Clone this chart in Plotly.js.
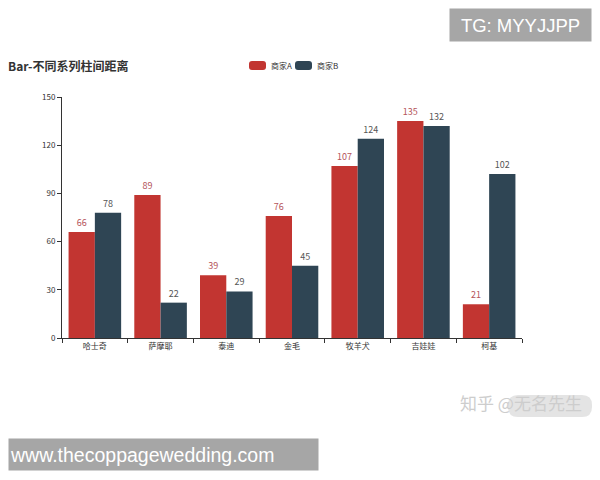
<!DOCTYPE html>
<html>
<head>
<meta charset="utf-8">
<script src="https://cdn.plot.ly/plotly-3.0.1.min.js"></script>
<style>html,body{margin:0;padding:0;background:#fff;}#chart{width:600px;height:480px;}</style>
</head>
<body>
<div id="chart"></div>
<script>
const categories = ["哈士奇", "萨摩耶", "泰迪", "金毛", "牧羊犬", "吉娃娃", "柯基"];
const seriesA = [66, 89, 39, 76, 107, 135, 21];
const seriesB = [78, 22, 29, 45, 124, 132, 102];
const seriesNames = ["商家A", "商家B"];
const seriesColors = ["#c23531", "#2f4554"];
const yTicks = [0, 30, 60, 90, 120, 150];

const FONT = '"Noto Sans CJK SC", "Liberation Sans", sans-serif';
const L = 62, R = 78, T = 97, B = 142;
const W = 600 - L - R, H = 480 - T - B;
const px = x => (x - L) / W;
const py = y => (480 - B - y) / H;

const traces = [
  {type: 'bar', name: seriesNames[0], x: categories, y: seriesA,
   marker: {color: seriesColors[0]}, text: seriesA.map(String), textposition: 'outside',
   textfont: {size: 9, color: '#b4545a', family: FONT}, cliponaxis: false, hoverinfo: 'none'},
  {type: 'bar', name: seriesNames[1], x: categories, y: seriesB,
   marker: {color: seriesColors[1]}, text: seriesB.map(String), textposition: 'outside',
   textfont: {size: 9, color: '#555', family: FONT}, cliponaxis: false, hoverinfo: 'none'}
];

// custom legend (rounded icons like the original)
function roundRect(x0, y0, x1, y1, r) {
  return `M ${px(x0 + r)} ${py(y0)} L ${px(x1 - r)} ${py(y0)} Q ${px(x1)} ${py(y0)} ${px(x1)} ${py(y0 + r)} ` +
         `L ${px(x1)} ${py(y1 - r)} Q ${px(x1)} ${py(y1)} ${px(x1 - r)} ${py(y1)} ` +
         `L ${px(x0 + r)} ${py(y1)} Q ${px(x0)} ${py(y1)} ${px(x0)} ${py(y1 - r)} ` +
         `L ${px(x0)} ${py(y0 + r)} Q ${px(x0)} ${py(y0)} ${px(x0 + r)} ${py(y0)} Z`;
}
const legendShapes = [], legendAnn = [];
seriesNames.forEach((n, i) => {
  const x0 = 249 + i * 46;
  legendShapes.push({type: 'path', xref: 'paper', yref: 'paper', path: roundRect(x0, 61, x0 + 17, 70, 3),
                     fillcolor: seriesColors[i], line: {width: 0}});
  legendAnn.push({text: n, xref: 'paper', yref: 'paper', x: px(x0 + 20), y: py(65.5),
                  xanchor: 'left', yanchor: 'middle', showarrow: false,
                  font: {size: 8, color: '#333', family: FONT}});
});

const layout = {
  width: 600, height: 480,
  margin: {l: L, r: R, t: T, b: B, pad: 0},
  paper_bgcolor: '#fff', plot_bgcolor: '#fff',
  font: {family: FONT, color: '#333'},
  barmode: 'group', bargap: 0.2, bargroupgap: 0,
  title: {text: '<b>Bar-不同系列柱间距离</b>', x: 8/600, xanchor: 'left', xref: 'container',
          y: 1 - 67/480, yanchor: 'middle', yref: 'container',
          font: {size: 12, color: '#333', family: FONT}},
  showlegend: false,
  xaxis: {type: 'category', showline: true, linecolor: '#333', linewidth: 1,
          ticks: 'outside', ticklen: 4, tickcolor: '#333', tickson: 'boundaries',
          showgrid: false, zeroline: false, tickfont: {size: 8, color: '#333', family: FONT},
          fixedrange: true},
  yaxis: {range: [0, 150], tickvals: yTicks, ticktext: yTicks.map(String),
          showline: true, linecolor: '#333', linewidth: 1,
          ticks: 'outside', ticklen: 4, tickcolor: '#333',
          showgrid: false, zeroline: false, tickfont: {size: 8, color: '#333', family: FONT},
          fixedrange: true},
  annotations: legendAnn.concat([
    {text: 'TG: MYYJJPP', xref: 'paper', yref: 'paper', x: px(520.5), y: py(25),
     xanchor: 'center', yanchor: 'middle', showarrow: false, width: 139, height: 30,
     bgcolor: '#a6a6a6', font: {size: 18.5, color: '#fff', family: '"Liberation Sans", sans-serif'}},
    {text: 'www.thecoppagewedding.com', xref: 'paper', yref: 'paper', x: px(163.5), y: py(454.5),
     xanchor: 'center', yanchor: 'middle', showarrow: false, width: 307, height: 29, align: 'left',
     bgcolor: '#a6a6a6', font: {size: 19.5, color: '#fff', family: '"Liberation Sans", sans-serif'}},
    {text: '知乎 @无名先生', xref: 'paper', yref: 'paper', x: px(521), y: py(402),
     xanchor: 'center', yanchor: 'middle', showarrow: false,
     font: {size: 17, color: '#cdcdcd', family: FONT}}
  ]),
  shapes: legendShapes.concat([
    {type: 'path', xref: 'paper', yref: 'paper', layer: 'below',
     path: roundRect(508, 395, 592, 417, 10),
     fillcolor: '#e4e4e4', line: {width: 0}}
  ])
};

Plotly.newPlot('chart', traces, layout, {displayModeBar: false, staticPlot: true});
</script>
</body>
</html>
